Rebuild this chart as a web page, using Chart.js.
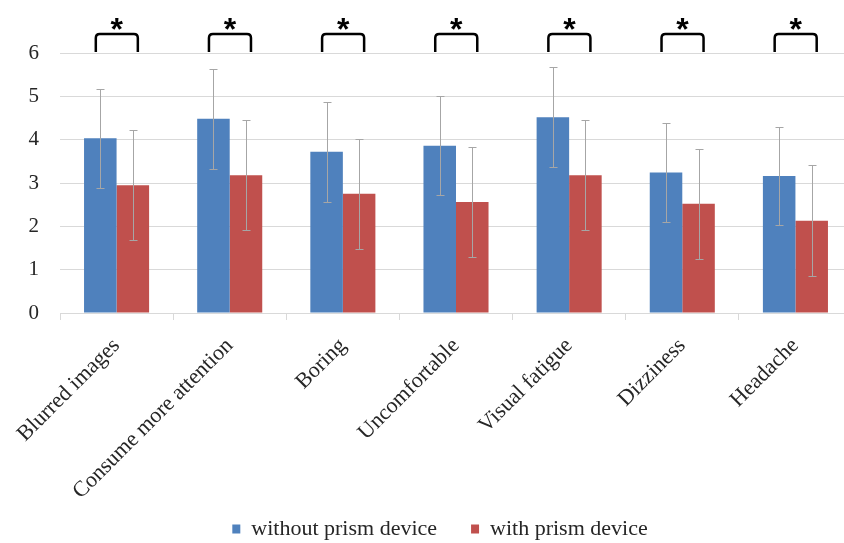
<!DOCTYPE html>
<html>
<head>
<meta charset="utf-8">
<script src="https://cdn.jsdelivr.net/npm/chart.js@4/dist/chart.umd.min.js"></script>
<style>
  html, body { margin: 0; padding: 0; background: #fff; overflow: hidden; }
  #wrap { width: 844px; height: 543px; overflow: hidden; }
  canvas { display: block; }
</style>
</head>
<body>
<div id="wrap"><canvas id="c" width="852" height="543"></canvas></div>
<script>
// Symptom categories
const categories = ['Blurred images', 'Consume more attention', 'Boring', 'Uncomfortable',
                    'Visual fatigue', 'Dizziness', 'Headache'];
// Mean scores
const withoutPrism = [4.03, 4.48, 3.72, 3.86, 4.52, 3.24, 3.16];
const withPrism    = [2.95, 3.18, 2.75, 2.56, 3.18, 2.52, 2.13];
// Standard deviations
const withoutPrismSD = [1.14, 1.15, 1.15, 1.14, 1.15, 1.14, 1.14];
const withPrismSD    = [1.27, 1.27, 1.27, 1.27, 1.27, 1.27, 1.28];
// Significance markers per category
const significance = ['*', '*', '*', '*', '*', '*', '*'];
// Y-axis ticks
const yTicks = [0, 1, 2, 3, 4, 5, 6];

const SERIF = "'Liberation Serif', 'Times New Roman', serif";
const TEXT = '#262626';
const GRID = '#d9d9d9';

const errorBars = {
  id: 'errorBars',
  afterDatasetsDraw(chart) {
    const ctx = chart.ctx;
    const y = chart.scales.y;
    ctx.save();
    ctx.strokeStyle = '#a6a6a6';
    ctx.lineWidth = 1;
    chart.data.datasets.forEach((ds, i) => {
      const meta = chart.getDatasetMeta(i);
      meta.data.forEach((bar, j) => {
        const m = ds.data[j], s = ds.sd[j];
        const x = Math.round(bar.x) + 0.5;
        const yt = Math.round(y.getPixelForValue(m + s)) + 0.5;
        const yb = Math.round(y.getPixelForValue(m - s)) + 0.5;
        ctx.beginPath();
        ctx.moveTo(x, yt); ctx.lineTo(x, yb);
        ctx.moveTo(x - 4, yt); ctx.lineTo(x + 4, yt);
        ctx.moveTo(x - 4, yb); ctx.lineTo(x + 4, yb);
        ctx.stroke();
      });
    });
    ctx.restore();
  }
};

const brackets = {
  id: 'brackets',
  afterDraw(chart) {
    const ctx = chart.ctx;
    const a = chart.getDatasetMeta(0).data;
    const b = chart.getDatasetMeta(1).data;
    const top = chart.chartArea.top;
    ctx.save();
    ctx.strokeStyle = '#000';
    ctx.lineWidth = 2.5;
    ctx.lineJoin = 'round';
    ctx.lineCap = 'butt';
    significance.forEach((mark, j) => {
      if (!mark) return;
      const x1 = a[j].x - 4.5, x2 = b[j].x + 5;
      const yTop = top - 19, yBot = top - 1, r = 4;
      ctx.beginPath();
      ctx.moveTo(x1, yBot);
      ctx.lineTo(x1, yTop + r);
      ctx.quadraticCurveTo(x1, yTop, x1 + r, yTop);
      ctx.lineTo(x2 - r, yTop);
      ctx.quadraticCurveTo(x2, yTop, x2, yTop + r);
      ctx.lineTo(x2, yBot);
      ctx.stroke();
      ctx.fillStyle = '#000';
      ctx.font = "bold 32px 'Liberation Sans', Arial, sans-serif";
      ctx.textAlign = 'center';
      ctx.textBaseline = 'alphabetic';
      ctx.fillText(mark, (x1 + x2) / 2, top - 13);
    });
    ctx.restore();
  }
};

new Chart(document.getElementById('c'), {
  type: 'bar',
  data: {
    labels: categories,
    datasets: [
      { label: 'without prism device', data: withoutPrism, sd: withoutPrismSD,
        backgroundColor: '#4f81bd', borderWidth: 0 },
      { label: 'with prism device', data: withPrism, sd: withPrismSD,
        backgroundColor: '#c0504d', borderWidth: 0 }
    ]
  },
  options: {
    responsive: false,
    animation: false,
    devicePixelRatio: 1,
    layout: { padding: { top: 53, left: 28, right: 0, bottom: -7 } },
    datasets: { bar: { barPercentage: 1, categoryPercentage: 0.575 } },
    plugins: {
      legend: {
        position: 'bottom',
        labels: {
          font: { family: SERIF, size: 22 },
          color: TEXT,
          boxWidth: 8,
          boxHeight: 9,
          padding: 34
        }
      },
      tooltip: { enabled: false }
    },
    scales: {
      x: {
        grid: { drawOnChartArea: false, drawTicks: true, tickLength: 7, color: GRID, offset: true },
        border: { display: true, color: GRID },
        ticks: {
          autoSkip: false, minRotation: 45, maxRotation: 45,
          font: { family: SERIF, size: 22 }, color: TEXT, padding: 13
        },
        afterFit(scale) {
          scale.height = 171;
          // long rotated labels run down past the axis box, so don't clip them
          scale._computeLabelArea = () => undefined;
        }
      },
      y: {
        min: 0, max: 6,
        grid: { color: GRID, drawTicks: false },
        border: { display: false },
        afterBuildTicks(scale) { scale.ticks = yTicks.map(v => ({ value: v })); },
        ticks: { font: { family: SERIF, size: 21 }, color: TEXT, padding: 21 },
        afterFit(scale) { scale.width = 32; }
      }
    }
  },
  plugins: [errorBars, brackets]
});
</script>
</body>
</html>
